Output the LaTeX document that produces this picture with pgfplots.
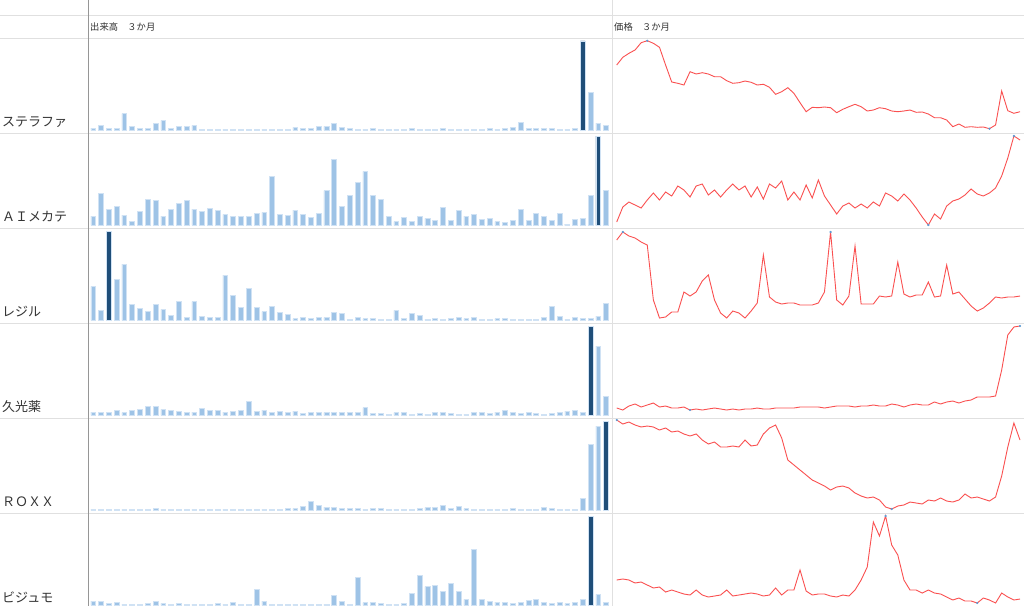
\documentclass[border=0pt]{standalone}
\usepackage{pgfplots}
\pgfplotsset{compat=1.18}
\usepackage{pgfplotstable}
\usepackage{fontspec}
\setmainfont{Noto Sans CJK JP}
\definecolor{barlight}{RGB}{158,195,230}
\definecolor{bardark}{RGB}{31,78,121}
\definecolor{baredge}{RGB}{208,226,244}
\definecolor{linered}{RGB}{250,80,80}
\definecolor{gridc}{RGB}{224,224,224}
\definecolor{axisc}{RGB}{150,150,150}
\definecolor{txt}{RGB}{51,51,51}
\definecolor{markc}{RGB}{91,155,213}

% volume bars (heights), one column per stock
\pgfplotstableread{
i b1 b2 b3 b4 b5 b6
0 2.3 9.3 34 3.3 1 4.3
1 5 32.3 10.3 3.3 1 4.3
2 2.3 16.3 89.3 3.3 1 2
3 1.7 19.3 41.3 5.3 1 2.7
4 16.7 10.3 56.3 2.7 1 1
5 4 3.7 16.3 5.3 1 1
6 2.3 14 12 6 1 1
7 1.7 26.3 8.7 9.3 1 2
8 6.7 25.3 16.3 8.7 2 3.7
9 10 9.3 11 6 1 2
10 1.7 16.3 5.3 5.3 1 1
11 4 22.3 19.3 4.3 1 2
12 4 25.3 2.7 3.3 1 1
13 5 16.3 18.7 3.3 1 1
14 1 14 4.3 7 1 1
15 0.7 17 2.7 5.3 1 1
16 1 15.3 2.7 5.3 0.7 2
17 1 11 45.3 3.3 1 1
18 1 9.3 25.3 4.3 1 2.7
19 1 9.3 13 5.3 1 1
20 1 9.3 32.3 14.3 1 1
21 1 12 13 4.3 1 16
22 1 13 8.7 5.3 1 4.3
23 1 48.7 13.7 3.3 1 1
24 1 11 7.7 4.3 1 1
25 1 10.3 6 2.7 2 1
26 3 15.3 1.7 4.3 2 1
27 2.3 11 2.7 1.7 4.3 1
28 1.7 7.7 1.7 3.3 8.7 0.7
29 4 12 3.3 2.7 5.3 1
30 4 34.7 2.7 2.7 3.3 1
31 6.7 65.7 7.7 2.7 2.7 10.3
32 3 19.3 7 2.7 2 3.7
33 1.7 30.3 1 2.7 2 1
34 1 43 3.3 2.7 2 28
35 1 54 1.7 7.7 1 2.7
36 1.7 30.3 1.7 1.7 2 3.3
37 1 26.3 1 1.7 2 1.7
38 1 9.3 1 1 1 1
39 1 3.7 10 2.7 1 1
40 1 7.7 1.7 2.7 1 1.7
41 1.7 3.7 6.7 1 1 12
42 1 8.7 5.3 1.7 1.7 29.7
43 1 7 1 1 2.7 18.7
44 1 4.7 1.7 2.7 2.7 19.7
45 1.7 18 1 2.7 5.3 13.7
46 1 5.3 1.7 1.7 1.7 22
47 1 15.3 2.7 1 3.7 13.7
48 1 9.3 1.7 1 1.7 6
49 1 11 3.3 3.3 1 56
50 1 6 1 3.3 1 6
51 1.7 7 0.7 1.7 1 4.3
52 1 3.7 1.7 3.3 1 3.3
53 2.3 2.7 1.7 5.3 1 3.3
54 3 4.7 0.7 3.3 2 1.7
55 8 16.3 1 1.7 1 3.3
56 2.3 4.7 1 3.3 1 5.3
57 1.7 12 1 1.7 1 6
58 2.3 8.7 2.7 1 2.7 3.3
59 2.3 4.7 14.3 1.7 1.7 1.7
60 1 12 4.3 2.7 1 2.7
61 1 1 1 4.3 1 1.7
62 2 6 2.7 5.3 1 2.7
63 89.3 7 1.7 3.3 12 6
64 37.7 29.7 1.7 89.3 66 89.3
65 7.3 89.3 4.3 69.3 84.3 11
66 5 34.7 17 19.3 89.3 3.3
}\bars

% price lines (vertical position within each row, downwards)
\pgfplotstableread{
i p1 p2 p3 p4 p5 p6
0 65 222 240 408 420 580
1 57.3 207 232 410 424 579
2 53.3 202 236 406 422 580
3 50 205 238 404 425 583
4 42.7 208 242 407 427 582
5 40.7 200 245 405 426 585
6 43.3 193 300 403 427 588
7 47.3 200 318 407 430 587
8 65 192 317 406 428 592
9 82 196 312 408 432 590
10 83.3 186 312 408 431 592
11 85 190 292 407 434 594
12 71.7 197 296 410 436 595
13 74 186 292 409 434 590
14 72.7 184 281 410 440 595
15 74 195 275 409 444 597
16 76.7 190 300 408 442 596
17 76.7 197 313 409 447 595
18 80.7 190 318 410 447 590
19 83.3 184 311 409 446 596
20 82.7 190 313 410 447 595
21 81 186 318 409 440 594
22 82.3 197 311 409 446 593
23 85 187 303 408 445 594
24 84.3 199 255 409 434 596
25 87.3 184 297 409 428 595
26 94.3 188 302 408 425 588
27 91.7 181 304 408 438 595
28 87.7 200 303 408 460 590
29 93.3 192 303 408 465 590
30 102.7 200 305 407 470 570
31 111.7 185 305 407 475 591
32 107.3 198 305 407 480 595
33 107.7 180 303 407 483 594
34 107 196 292 408 486 594
35 107.7 205 232 407 490 596
36 112.7 214 300 406 487 597
37 109.3 206 305 406 486 595
38 106.7 203 296 406 488 596
39 104.3 208 246 407 493 590
40 106.7 204 304 406 496 580
41 111 208 304 406 498 567
42 110 202 304 405 497 522
43 107.7 206 296 406 500 536
44 108.7 193 297 406 507 516
45 111 196 296 404 509 545
46 111.7 201 262 405 506 555
47 111 194 294 407 505 580
48 110 200 297 405 502 590
49 112.3 208 295 404 503 590
50 112 217 295 405 504 593
51 114 225 282 405 500 590
52 117.7 214 297 402 501 593
53 117.7 219 296 404 498 594
54 120 206 265 402 501 597
55 126.7 201 294 401 502 600
56 124 199 292 403 500 598
57 127.3 195 299 401 494 601
58 126.7 189 306 400 498 601
59 127.3 194 311 397 497 603
60 127 196 308 397 499 598
61 128.7 193 303 397 501 600
62 125 188 297 396 497 603
63 91 176 298 370 476 593
64 110.7 158 297 335 447 597
65 113.3 136 297 327 423 600
66 111.7 140 296 326 440 599
}\prices

\pgfplotsset{
 barpanel/.style={anchor=south west, width=520.6pt, height=95pt, scale only axis,
   hide axis, clip=false, xmin=-0.5, xmax=66.5, ymin=-2.7, ymax=92.3},
 linepanel/.style 2 args={anchor=south west, width=403.3pt, height=95pt, scale only axis,
   hide axis, clip=false, xmin=0, xmax=66, y dir=reverse, ymin=#1, ymax=#2},
 lbar/.style={ybar, bar width=0.62, bar shift=0pt, fill=barlight, draw=baredge, line width=0.6pt},
 dbar/.style={ybar, bar width=0.62, bar shift=0pt, fill=bardark, draw=baredge, line width=0.6pt},
 pline/.style={linered, line width=0.9pt, no markers},
 pmark/.style={only marks, mark=*, mark size=0.9pt, markc},
}

\begin{document}
\begin{tikzpicture}
\path[use as bounding box] (0pt,0pt) rectangle (1024pt,-606pt);
\fill[white] (0pt,0pt) rectangle (1024pt,-606pt);
% table rules
\draw[gridc, line width=1pt] (0pt,-15.5pt) -- (1024pt,-15.5pt);
\draw[gridc, line width=1pt] (0pt,-38.3pt) -- (1024pt,-38.3pt);
\foreach \yy in {133.3,228.3,323.3,418.3,513.3}{
  \draw[gridc, line width=1pt] (0pt,-\yy pt) -- (1024pt,-\yy pt);
}
\draw[gridc, line width=1pt] (612pt,0pt) -- (612pt,-606pt);
\draw[axisc, line width=1pt] (88pt,0pt) -- (88pt,-606pt);
% headers
\node[anchor=west, inner sep=0pt, txt, font=\fontsize{9.3}{11}\selectfont] at (90pt,-26.7pt) {出来高　３か月};
\node[anchor=west, inner sep=0pt, txt, font=\fontsize{9.3}{11}\selectfont] at (614pt,-26.7pt) {価格　３か月};
% row labels
\node[anchor=west, inner sep=0pt, txt, font=\fontsize{13}{15}\selectfont] at (2pt,-122pt) {ステラファ};
\node[anchor=west, inner sep=0pt, txt, font=\fontsize{13}{15}\selectfont] at (2pt,-217pt) {ＡＩメカテ};
\node[anchor=west, inner sep=0pt, txt, font=\fontsize{13}{15}\selectfont] at (2pt,-312pt) {レジル};
\node[anchor=west, inner sep=0pt, txt, font=\fontsize{13}{15}\selectfont] at (2pt,-407pt) {久光薬};
\node[anchor=west, inner sep=0pt, txt, font=\fontsize{13}{15}\selectfont] at (2pt,-502pt) {ＲＯＸＸ};
\node[anchor=west, inner sep=0pt, txt, font=\fontsize{13}{15}\selectfont] at (2pt,-597pt) {ビジュモ};

% ---- volume bars ----
\begin{axis}[barpanel, at={(89.4pt,-133pt)}]
\addplot[lbar] table[x=i,y=b1] {\bars};
\addplot[dbar] coordinates {(63,89.3) (15,0.7)};
\end{axis}
\begin{axis}[barpanel, at={(89.4pt,-228pt)}]
\addplot[lbar] table[x=i,y=b2] {\bars};
\addplot[dbar] coordinates {(65,89.3) (61,1)};
\end{axis}
\begin{axis}[barpanel, at={(89.4pt,-323pt)}]
\addplot[lbar] table[x=i,y=b3] {\bars};
\addplot[dbar] coordinates {(2,89.3) (51,0.7) (54,0.7)};
\end{axis}
\begin{axis}[barpanel, at={(89.4pt,-418pt)}]
\addplot[lbar] table[x=i,y=b4] {\bars};
\addplot[dbar] coordinates {(64,89.3) (38,1)};
\end{axis}
\begin{axis}[barpanel, at={(89.4pt,-513pt)}]
\addplot[lbar] table[x=i,y=b5] {\bars};
\addplot[dbar] coordinates {(66,89.3) (16,0.7)};
\end{axis}
\begin{axis}[barpanel, at={(89.4pt,-608pt)}]
\addplot[lbar] table[x=i,y=b6] {\bars};
\addplot[dbar] coordinates {(64,89.3) (28,0.7)};
\end{axis}

% ---- price lines ----
\begin{axis}[linepanel={38}{133}, at={(616.7pt,-133pt)}]
\addplot[pline] table[x=i,y=p1] {\prices};
\addplot[pmark] coordinates {(5,40.7) (61,128.7)};
\end{axis}
\begin{axis}[linepanel={133}{228}, at={(616.7pt,-228pt)}]
\addplot[pline] table[x=i,y=p2] {\prices};
\addplot[pmark] coordinates {(65,136) (51,225)};
\end{axis}
\begin{axis}[linepanel={228}{323}, at={(616.7pt,-323pt)}]
\addplot[pline] table[x=i,y=p3] {\prices};
\addplot[pmark] coordinates {(1,232) (35,232)};
\end{axis}
\begin{axis}[linepanel={323}{418}, at={(616.7pt,-418pt)}]
\addplot[pline] table[x=i,y=p4] {\prices};
\addplot[pmark] coordinates {(66,326) (12,410)};
\end{axis}
\begin{axis}[linepanel={418}{513}, at={(616.7pt,-513pt)}]
\addplot[pline] table[x=i,y=p5] {\prices};
\addplot[pmark] coordinates {(0,420) (45,509)};
\end{axis}
\begin{axis}[linepanel={513}{608}, at={(616.7pt,-608pt)}]
\addplot[pline] table[x=i,y=p6] {\prices};
\addplot[pmark] coordinates {(44,516) (59,603)};
\end{axis}
\end{tikzpicture}
\end{document}
